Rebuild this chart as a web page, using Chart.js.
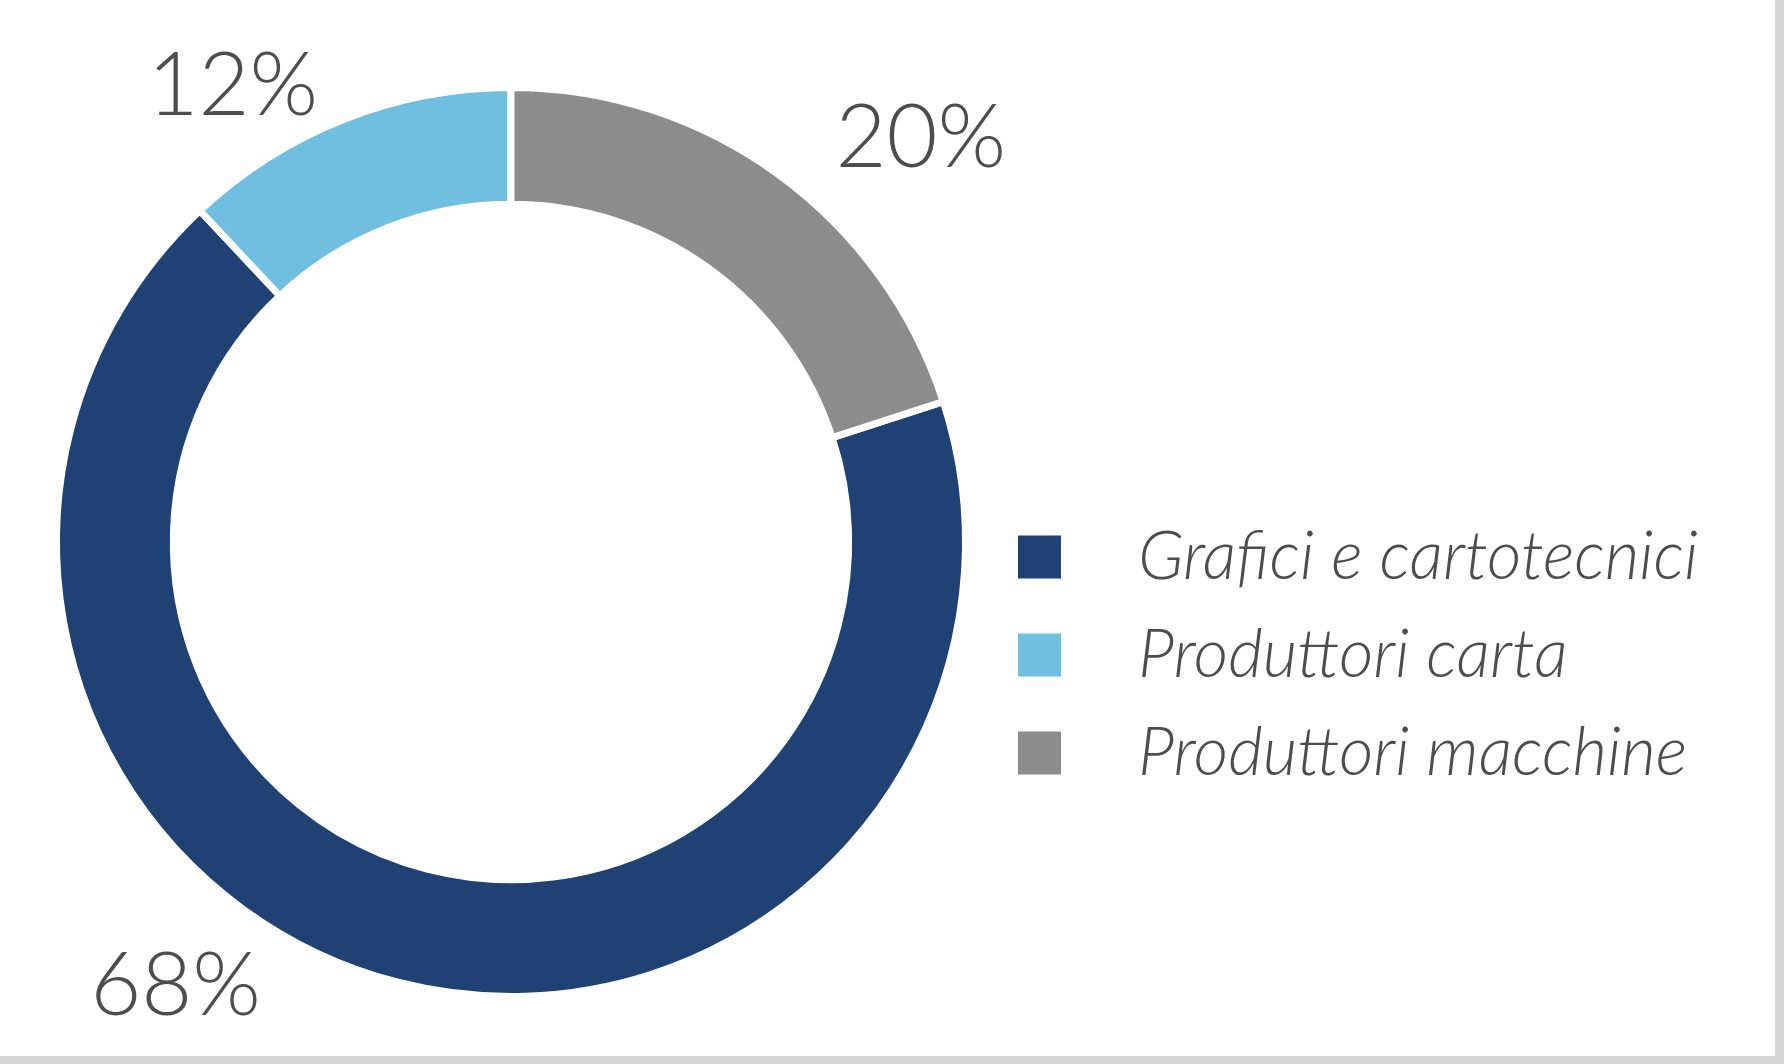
<!DOCTYPE html>
<html>
<head>
<meta charset="utf-8">
<script src="https://cdn.jsdelivr.net/npm/chart.js@4/dist/chart.umd.min.js"></script>
<style>
  html, body { margin: 0; padding: 0; background: #d6d6d6; }
  #frame { position: absolute; left: 0; top: 0; width: 1775px; height: 1056px; background: #fefefe; }
  canvas { display: block; }
</style>
</head>
<body>
<div id="frame"><canvas id="donut" width="1775" height="1056"></canvas></div>
<script>
// Data
const categories = ['Grafici e cartotecnici', 'Produttori carta', 'Produttori macchine'];
const shares = [68, 12, 20];
const sliceColors = ['#1f4174', '#70bee0', '#8c8c8c'];

const TEXT = '#4d4d4d';
const FONT = 'Lato, "Open Sans", sans-serif';

// percentage labels outside the ring, placed along each arc
const outsideLabels = {
  id: 'outsideLabels',
  afterDatasetsDraw(chart, args, opts) {
    const ctx = chart.ctx;
    const meta = chart.getDatasetMeta(0);
    ctx.save();
    ctx.fillStyle = TEXT;
    ctx.font = '300 ' + opts.size + 'px ' + FONT;
    ctx.textAlign = 'center';
    ctx.textBaseline = 'middle';
    meta.data.forEach((arc, i) => {
      const p = opts.place[i];
      const a = arc.startAngle + (arc.endAngle - arc.startAngle) * p.at;
      const r = arc.outerRadius * p.dist;
      ctx.fillText(shares[i] + '%', arc.x + Math.cos(a) * r, arc.y + Math.sin(a) * r + opts.dy);
    });
    ctx.restore();
  }
};

// legend on the right side
const sideLegend = {
  id: 'sideLegend',
  afterDraw(chart, args, opts) {
    const ctx = chart.ctx;
    const colors = chart.data.datasets[0].backgroundColor;
    ctx.save();
    ctx.font = 'italic 300 ' + opts.size + 'px ' + FONT;
    ctx.textBaseline = 'middle';
    chart.data.labels.forEach((label, i) => {
      const cy = opts.y + i * opts.rowGap;
      ctx.fillStyle = colors[i];
      ctx.fillRect(opts.x, cy - opts.box / 2, opts.box, opts.box);
      ctx.fillStyle = TEXT;
      ctx.fillText(label, opts.textX, cy);
    });
    ctx.restore();
  }
};

new Chart(document.getElementById('donut'), {
  type: 'doughnut',
  data: {
    labels: categories,
    datasets: [{
      data: shares,
      backgroundColor: sliceColors,
      borderColor: '#fefefe',
      borderWidth: 7
    }]
  },
  options: {
    responsive: false,
    animation: false,
    rotation: 72,
    cutout: '74.3%',
    layout: { padding: { left: 53, top: 84, right: 806, bottom: 56 } },
    plugins: {
      legend: { display: false },
      tooltip: { enabled: false },
      outsideLabels: {
        size: 88,
        dy: 6,
        place: [
          { at: 0.594, dist: 1.215 },
          { at: 0.28, dist: 1.185 },
          { at: 0.625, dist: 1.275 }
        ]
      },
      sideLegend: { x: 1018, y: 557, rowGap: 98, box: 43, textX: 1138, size: 67 }
    }
  },
  plugins: [outsideLabels, sideLegend]
});
</script>
</body>
</html>
